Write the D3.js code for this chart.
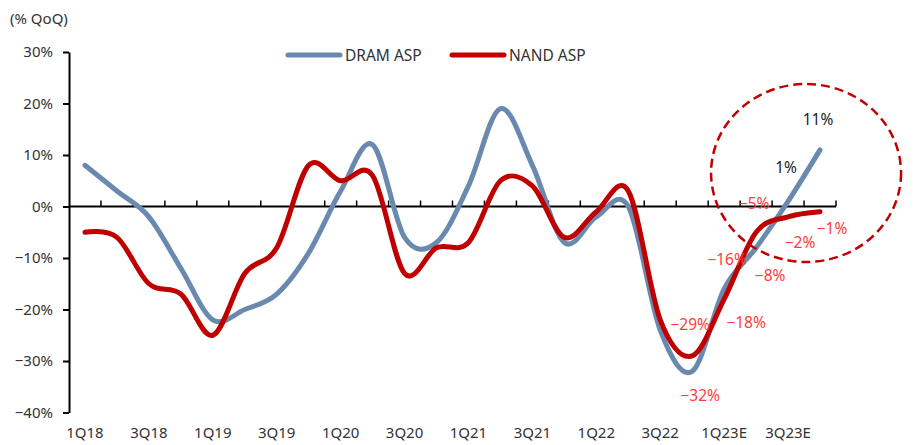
<!DOCTYPE html>
<html>
<head>
<meta charset="utf-8">
<script src="https://cdn.jsdelivr.net/npm/d3@7"></script>
<style>
  html, body { margin: 0; padding: 0; background: #fff; }
  svg { display: block; font-family: 'Noto Sans', sans-serif; }
</style>
</head>
<body>
<div id="chart"></div>
<script>
// quarters on the x axis
const quarters = ['1Q18', '2Q18', '3Q18', '4Q18', '1Q19', '2Q19', '3Q19', '4Q19',
  '1Q20', '2Q20', '3Q20', '4Q20', '1Q21', '2Q21', '3Q21', '4Q21',
  '1Q22', '2Q22', '3Q22', '4Q22', '1Q23E', '2Q23E', '3Q23E', '4Q23E']
// only every second quarter gets a label
const tickLabels = ['1Q18', '3Q18', '1Q19', '3Q19', '1Q20', '3Q20', '1Q21', '3Q21',
  '1Q22', '3Q22', '1Q23E', '3Q23E']
// % QoQ
const dramAsp = [8, 3, -2, -12, -22, -20, -17, -9, 3, 12, -6, -7, 4, 19, 8, -7, -2, 0, -24, -32, -16, -8, 1, 11]
const nandAsp = [-5, -6, -15, -17, -25, -13, -8, 8, 5, 6, -13, -8, -7, 5, 4, -6, -1, 3, -22, -29, -18, -5, -2, -1]
const yTicks = [30, 20, 10, 0, -10, -20, -30, -40]
// quarters that get a value label
const labelledQuarters = ['4Q22', '1Q23E', '2Q23E', '3Q23E', '4Q23E']

const width = 914
const height = 445
const blue = '#6a89ae'
const red = '#c00000'

const svg = d3.select('#chart').append('svg')
  .attr('width', width)
  .attr('height', height)

const x = d3.scaleBand().domain(quarters).range([69, 836])
const y = d3.scaleLinear().domain([-40, 30]).range([412.5, 52])
const cx = q => x(q) + x.bandwidth() / 2

const fmt = v => d3.format('d')(v) + '%'

// y axis
const yAxis = svg.append('g')
  .attr('transform', 'translate(69,0)')
  .call(d3.axisLeft(y).tickValues(yTicks).tickFormat(fmt).tickSize(6).tickSizeOuter(0).tickPadding(10))
yAxis.select('.domain').attr('stroke', '#000').attr('stroke-width', 2)
yAxis.selectAll('.tick line').attr('stroke', '#000').attr('stroke-width', 2)
yAxis.selectAll('.tick text')
  .attr('fill', '#333')
  .style('font-size', '15px')
  .style('font-family', "'Noto Sans', sans-serif")

// zero line with quarter ticks
const zero = svg.append('g')
zero.append('line')
  .attr('x1', 69).attr('x2', 836)
  .attr('y1', y(0)).attr('y2', y(0))
  .attr('stroke', '#000').attr('stroke-width', 2)
zero.selectAll('line.qt')
  .data(quarters)
  .join('line')
  .attr('class', 'qt')
  .attr('x1', d => x(d) + x.bandwidth())
  .attr('x2', d => x(d) + x.bandwidth())
  .attr('y1', y(0))
  .attr('y2', y(0) - 6)
  .attr('stroke', '#000').attr('stroke-width', 1.5)

// quarter labels at the bottom
svg.append('g').selectAll('text')
  .data(tickLabels)
  .join('text')
  .attr('x', d => cx(d))
  .attr('y', 432)
  .attr('text-anchor', 'middle')
  .attr('dominant-baseline', 'central')
  .attr('fill', '#333')
  .style('font-size', '15px')
  .text(d => d)

svg.append('text')
  .attr('x', 10).attr('y', 18)
  .attr('dominant-baseline', 'central')
  .attr('fill', '#333')
  .style('font-size', '15px')
  .text('(% QoQ)')

// lines, Excel-like smoothing
const line = d3.line()
  .x((d, i) => cx(quarters[i]))
  .y(d => y(d))
  .curve(d3.curveCardinal.tension(0))

svg.append('path')
  .datum(dramAsp)
  .attr('d', line)
  .attr('fill', 'none')
  .attr('stroke', blue)
  .attr('stroke-width', 5)
  .attr('stroke-linecap', 'round')
  .attr('stroke-linejoin', 'round')

svg.append('path')
  .datum(nandAsp)
  .attr('d', line)
  .attr('fill', 'none')
  .attr('stroke', red)
  .attr('stroke-width', 5)
  .attr('stroke-linecap', 'round')
  .attr('stroke-linejoin', 'round')

// dashed circle round the forecast
svg.append('ellipse')
  .attr('cx', cx('3Q23E') + 18)
  .attr('cy', y(6.5))
  .attr('rx', 95)
  .attr('ry', 89)
  .attr('fill', 'none')
  .attr('stroke', red)
  .attr('stroke-width', 2.5)
  .attr('stroke-dasharray', '9,5')

// value labels, offsets picked by eye
const dramOffsets = [[8, 24], [3, -30], [14, 27], [-2, -34], [-2, -31]]
const nandOffsets = [[-2, -32], [22, 23], [-2, -29], [12, 25], [12, 16]]

function addLabels(values, offsets) {
  svg.append('g').selectAll('text')
    .data(labelledQuarters)
    .join('text')
    .attr('x', (q, i) => cx(q) + offsets[i][0])
    .attr('y', (q, i) => y(values[quarters.indexOf(q)]) + offsets[i][1])
    .attr('text-anchor', 'middle')
    .attr('dominant-baseline', 'central')
    .attr('fill', q => values[quarters.indexOf(q)] < 0 ? '#ff3b3b' : '#222')
    .style('font-size', '15.5px')
    .text(q => fmt(values[quarters.indexOf(q)]))
}
addLabels(dramAsp, dramOffsets)
addLabels(nandAsp, nandOffsets)

// legend
const legend = svg.append('g')
const items = [['DRAM ASP', blue, 288], ['NAND ASP', red, 452]]
items.forEach(([name, color, lx]) => {
  legend.append('line')
    .attr('x1', lx).attr('x2', lx + 52)
    .attr('y1', 55).attr('y2', 55)
    .attr('stroke', color).attr('stroke-width', 5)
    .attr('stroke-linecap', 'round')
  legend.append('text')
    .attr('x', lx + 57).attr('y', 55)
    .attr('dominant-baseline', 'central')
    .attr('fill', '#333')
    .style('font-size', '15.5px')
    .text(name)
})
</script>
</body>
</html>
